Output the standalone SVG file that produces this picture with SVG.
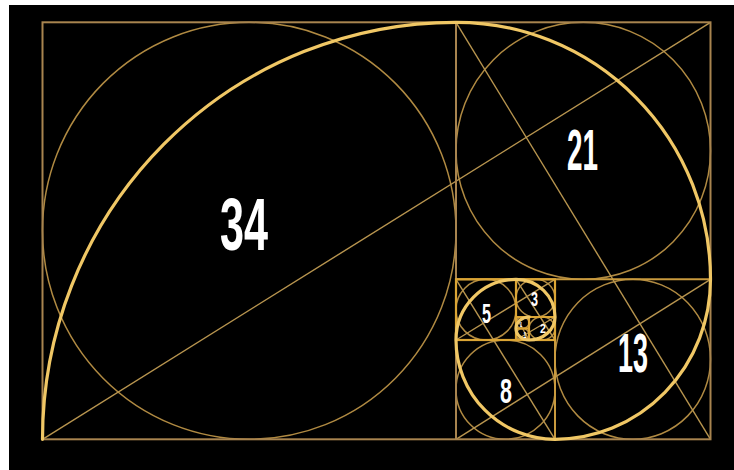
<svg xmlns="http://www.w3.org/2000/svg" width="734" height="470" viewBox="0 0 734 470">
<defs>
<style>
.frame{fill:none;stroke:#a8844f;stroke-width:2}
.div{fill:none;stroke:#c99a3e;stroke-width:2}
.small{fill:none;stroke:#dba535;stroke-width:2.2}
.circ{fill:none;stroke:#b08a42;stroke-width:1.5}
.diag{fill:none;stroke:#b8954f;stroke-width:1.4}
.spiral{fill:none;stroke:#f0c765;stroke-width:3.2;stroke-linecap:round}
.lbl{fill:#ffffff;font-family:"Liberation Sans",Arial,sans-serif;font-weight:bold;text-anchor:middle}
</style>
</defs>
<rect x="0" y="0" width="734" height="470" fill="#ffffff"/>
<rect x="9" y="5" width="725" height="465" fill="#000000"/>

<g id="circles">
<ellipse class="circ" cx="249.25" cy="230.8" rx="206.75" ry="208.5"/>
<ellipse class="circ" cx="583.25" cy="150.8" rx="127.25" ry="128.5"/>
<ellipse class="circ" cx="632.75" cy="359.3" rx="77.75" ry="80"/>
<ellipse class="circ" cx="505.5" cy="389.65" rx="49.5" ry="49.65"/>
<ellipse class="circ" cx="486" cy="309.65" rx="30" ry="30.35"/>
<ellipse class="circ" cx="535.5" cy="298.15" rx="19.5" ry="18.85"/>
<ellipse class="circ" cx="542" cy="328.5" rx="13" ry="11.5"/>
<ellipse class="circ" cx="522.5" cy="322.75" rx="6.5" ry="5.75"/>
<ellipse class="circ" cx="522.5" cy="334.25" rx="6.5" ry="5.75"/>
</g>

<g id="diagonals">
<line class="diag" x1="42.5" y1="439.3" x2="710.5" y2="22.3"/>
<line class="diag" x1="456" y1="22.3" x2="710.5" y2="439.3"/>
<line class="diag" x1="456" y1="439.3" x2="710.5" y2="279.3"/>
<line class="diag" x1="456" y1="279.3" x2="555" y2="439.3"/>
<line class="diag" x1="456" y1="340" x2="555" y2="279.3"/>
<line class="diag" x1="516" y1="279.3" x2="555" y2="340"/>
<line class="diag" x1="516" y1="340" x2="555" y2="317"/>
<line class="diag" x1="516" y1="317" x2="529" y2="340"/>
</g>

<g id="squares">
<rect class="frame" x="42.5" y="22.3" width="668" height="417"/>
<line class="div" x1="456" y1="22.3" x2="456" y2="439.3" style="stroke:#a8844f"/>
<line class="div" x1="456" y1="279.3" x2="710.5" y2="279.3"/>
<line class="div" x1="555" y1="279.3" x2="555" y2="439.3"/>
<line class="small" x1="456" y1="340" x2="555" y2="340"/>
<line class="small" x1="516" y1="279.3" x2="516" y2="340"/>
<line class="small" x1="516" y1="317" x2="555" y2="317"/>
<line class="small" x1="529" y1="317" x2="529" y2="340"/>
<line class="small" x1="516" y1="328.5" x2="529" y2="328.5"/>
<rect class="small" x="456" y="279.3" width="99" height="60.7"/>
</g>

<g id="spiral">
<path class="spiral" d="M42.5,439.3 A413.5,417 0 0 1 456,22.3 A254.5,257 0 0 1 710.5,279.3 A155.5,160 0 0 1 555,439.3 A99,99.3 0 0 1 456,340 A60,60.7 0 0 1 516,279.3 A39,37.7 0 0 1 555,317 A26,23 0 0 1 529,340 A13,11.5 0 0 1 516,328.5 A13,11.5 0 0 1 529,317"/>
</g>

<g id="labels">
<text class="lbl" x="244" y="250" font-size="74" textLength="48" lengthAdjust="spacingAndGlyphs">34</text>
<text class="lbl" x="582.5" y="170" font-size="58" textLength="31" lengthAdjust="spacingAndGlyphs">21</text>
<text class="lbl" x="633" y="372" font-size="56" textLength="30" lengthAdjust="spacingAndGlyphs">13</text>
<text class="lbl" x="506" y="403" font-size="35" textLength="12" lengthAdjust="spacingAndGlyphs">8</text>
<text class="lbl" x="486.5" y="323" font-size="28" textLength="9" lengthAdjust="spacingAndGlyphs">5</text>
<text class="lbl" x="534.5" y="306" font-size="20" textLength="7" lengthAdjust="spacingAndGlyphs">3</text>
<text class="lbl" x="543" y="333" font-size="13" textLength="6" lengthAdjust="spacingAndGlyphs">2</text>
<text class="lbl" x="521" y="327" font-size="8" textLength="2.5" lengthAdjust="spacingAndGlyphs">1</text>
<text class="lbl" x="525" y="337.5" font-size="9" textLength="3" lengthAdjust="spacingAndGlyphs">1</text>
</g>
</svg>
